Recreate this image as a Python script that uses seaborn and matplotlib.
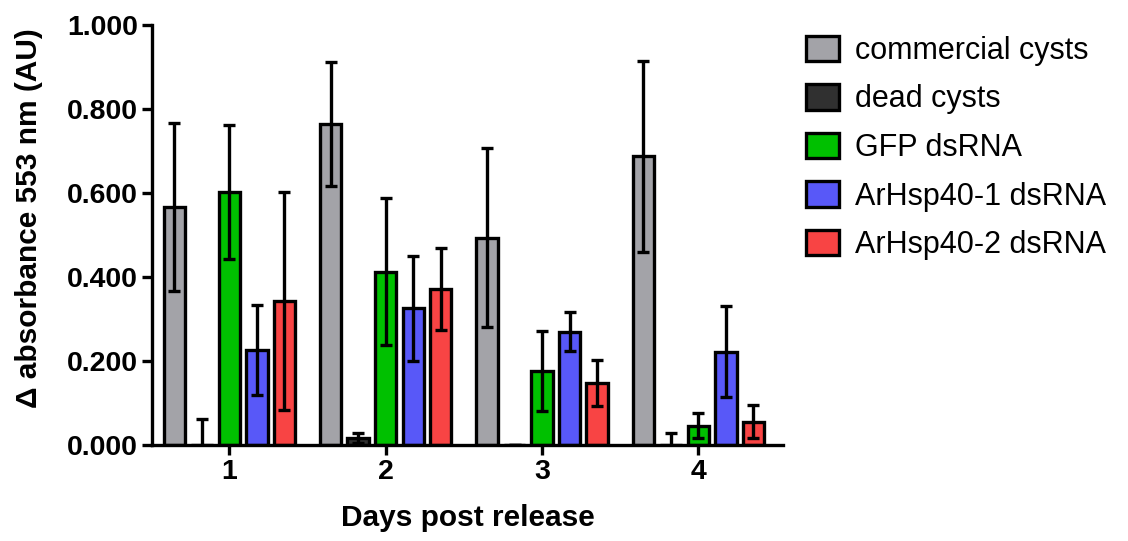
import numpy as np
import pandas as pd
import matplotlib
matplotlib.use("Agg")
import matplotlib.pyplot as plt
import seaborn as sns
from matplotlib.ticker import FormatStrFormatter
from matplotlib.patches import Patch

days = ["1", "2", "3", "4"]
groups = ["commercial cysts", "dead cysts", "GFP dsRNA", "ArHsp40-1 dsRNA", "ArHsp40-2 dsRNA"]
colors = ["#a3a3a8", "#303030", "#00c000", "#5858f8", "#f84444"]

commercial = [0.567, 0.764, 0.494, 0.687]
commercial_err = [0.200, 0.148, 0.212, 0.227]
dead = [0.0, 0.017, 0.0, 0.0]
dead_err = [0.063, 0.012, 0.0, 0.028]
gfp = [0.602, 0.413, 0.177, 0.046]
gfp_err = [0.160, 0.175, 0.095, 0.030]
hsp1 = [0.226, 0.326, 0.270, 0.222]
hsp1_err = [0.107, 0.125, 0.047, 0.108]
hsp2 = [0.343, 0.371, 0.147, 0.056]
hsp2_err = [0.260, 0.097, 0.055, 0.040]

values = [commercial, dead, gfp, hsp1, hsp2]
errors = [commercial_err, dead_err, gfp_err, hsp1_err, hsp2_err]

rows = []
for g, vals, errs in zip(groups, values, errors):
    for d, v, e in zip(days, vals, errs):
        rows.append({"day": d, "group": g, "value": v, "err": e})
df = pd.DataFrame(rows)

sns.set_style("ticks")
plt.rcParams["font.family"] = ["Liberation Sans", "DejaVu Sans"]
for k in ["text.color", "axes.labelcolor", "xtick.color", "ytick.color", "axes.edgecolor"]:
    plt.rcParams[k] = "black"

fig = plt.figure(figsize=(11.28, 5.41), dpi=100)
ax = fig.add_axes([0.1345, 0.1774, 0.56, 0.7764])

lw = 2.4
sns.barplot(data=df, x="day", y="value", hue="group", order=days, hue_order=groups,
            palette=colors, saturation=1, errorbar=None, width=0.88, gap=0.22,
            edgecolor="black", linewidth=lw, ax=ax, legend=False)

for container, g in zip(ax.containers, groups):
    sub = df[df["group"] == g].set_index("day").loc[days]
    xs = [p.get_x() + p.get_width() / 2 for p in container.patches]
    hs = [p.get_height() for p in container.patches]
    ax.errorbar(xs, hs, yerr=sub["err"].values, fmt="none", ecolor="black",
                elinewidth=lw, capsize=4.3, capthick=lw, zorder=5, clip_on=True)

ax.set_ylim(0, 1.0)
ax.set_xlim(-0.497, 3.544)
ax.set_yticks([0, 0.2, 0.4, 0.6, 0.8, 1.0])
ax.yaxis.set_major_formatter(FormatStrFormatter("%.3f"))
sns.despine(ax=ax)
for s in ["left", "bottom"]:
    ax.spines[s].set_linewidth(lw)
    ax.spines[s].set_color("black")
ax.tick_params(axis="both", width=lw, length=7, color="black", direction="out", pad=3)
for lab in ax.get_xticklabels() + ax.get_yticklabels():
    lab.set_fontweight("bold")
    lab.set_fontsize(20.5)
ax.set_xlabel("Days post release", fontsize=21.5, fontweight="bold", labelpad=14)
ax.set_ylabel("Δ absorbance 553 nm (AU)", fontsize=21.5, fontweight="bold")
ax.yaxis.set_label_coords(-0.172, 0.54)

handles = [Patch(facecolor=c, edgecolor="black", linewidth=lw, label=g) for g, c in zip(groups, colors)]
leg = fig.legend(handles=handles, loc="upper left", bbox_to_anchor=(0.69, 0.985),
                 frameon=False, fontsize=22, handlelength=1.1, handleheight=0.9,
                 labelspacing=0.6, handletextpad=0.5)

fig.savefig("out.png", dpi=100)
